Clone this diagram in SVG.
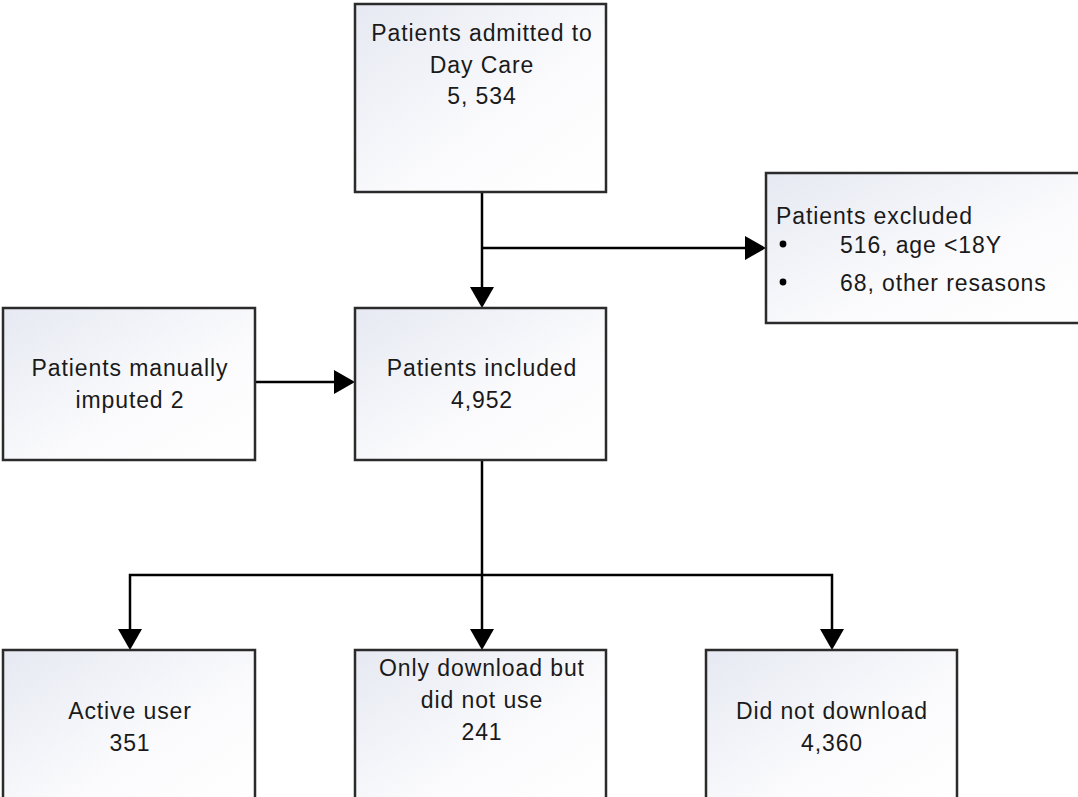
<svg xmlns="http://www.w3.org/2000/svg" width="1078" height="797" viewBox="0 0 1078 797">
<defs>
<linearGradient id="g" x1="0" y1="0" x2="1" y2="1">
<stop offset="0" stop-color="#e6e9f2"/>
<stop offset="0.6" stop-color="#fbfbfd"/>
<stop offset="1" stop-color="#ffffff"/>
</linearGradient>
<style>
.box{fill:url(#g);stroke:#2b2b2b;stroke-width:2.5}
.t{font-family:"Liberation Sans",Arial,sans-serif;font-size:23px;letter-spacing:0.9px;fill:#1a1a1a;text-anchor:middle}
.l{font-family:"Liberation Sans",Arial,sans-serif;font-size:23px;letter-spacing:0.9px;fill:#1a1a1a}
.c{fill:none;stroke:#000;stroke-width:2.5}
.ah{fill:#000}
</style>
</defs>
<rect width="1078" height="797" fill="#fff"/>
<g id="connectors">
<path class="c" d="M482,192 V288"/>
<path class="c" d="M482,248 H746"/>
<path class="ah" d="M745,236 L766,248 L745,260 Z"/>
<path class="ah" d="M470,287 L482,308 L494,287 Z"/>
<path class="c" d="M255,382 H335"/>
<path class="ah" d="M334,370 L355,382 L334,394 Z"/>
<path class="c" d="M482,460 V630"/>
<path class="c" d="M130,630 V575 H832 V630"/>
<path class="ah" d="M118,629 L130,650 L142,629 Z"/>
<path class="ah" d="M470,629 L482,650 L494,629 Z"/>
<path class="ah" d="M820,629 L832,650 L844,629 Z"/>
</g>
<g id="admitted">
<rect class="box" x="355" y="4" width="251" height="188"/>
<text class="t" x="482" y="41">Patients admitted to</text>
<text class="t" x="482" y="73">Day Care</text>
<text class="t" x="482" y="104">5, 534</text>
</g>
<g id="excluded">
<rect class="box" x="766" y="173" width="320" height="150"/>
<text class="l" x="776" y="224">Patients excluded</text>
<circle cx="783" cy="244" r="3.4" fill="#000"/>
<text class="l" x="840" y="253">516, age &lt;18Y</text>
<circle cx="783" cy="282" r="3.4" fill="#000"/>
<text class="l" x="840" y="291">68, other resasons</text>
</g>
<g id="manual">
<rect class="box" x="3" y="308" width="252" height="152"/>
<text class="t" x="130" y="376">Patients manually</text>
<text class="t" x="130" y="408">imputed 2</text>
</g>
<g id="included">
<rect class="box" x="355" y="308" width="251" height="152"/>
<text class="t" x="482" y="376">Patients included</text>
<text class="t" x="482" y="408">4,952</text>
</g>
<g id="active">
<rect class="box" x="3" y="650" width="252" height="160"/>
<text class="t" x="130" y="719">Active user</text>
<text class="t" x="130" y="751">351</text>
</g>
<g id="onlydownload">
<rect class="box" x="355" y="650" width="251" height="160"/>
<text class="t" x="482" y="676">Only download but</text>
<text class="t" x="482" y="708">did not use</text>
<text class="t" x="482" y="740">241</text>
</g>
<g id="notdownload">
<rect class="box" x="706" y="650" width="251" height="160"/>
<text class="t" x="832" y="719">Did not download</text>
<text class="t" x="832" y="751">4,360</text>
</g>
</svg>
